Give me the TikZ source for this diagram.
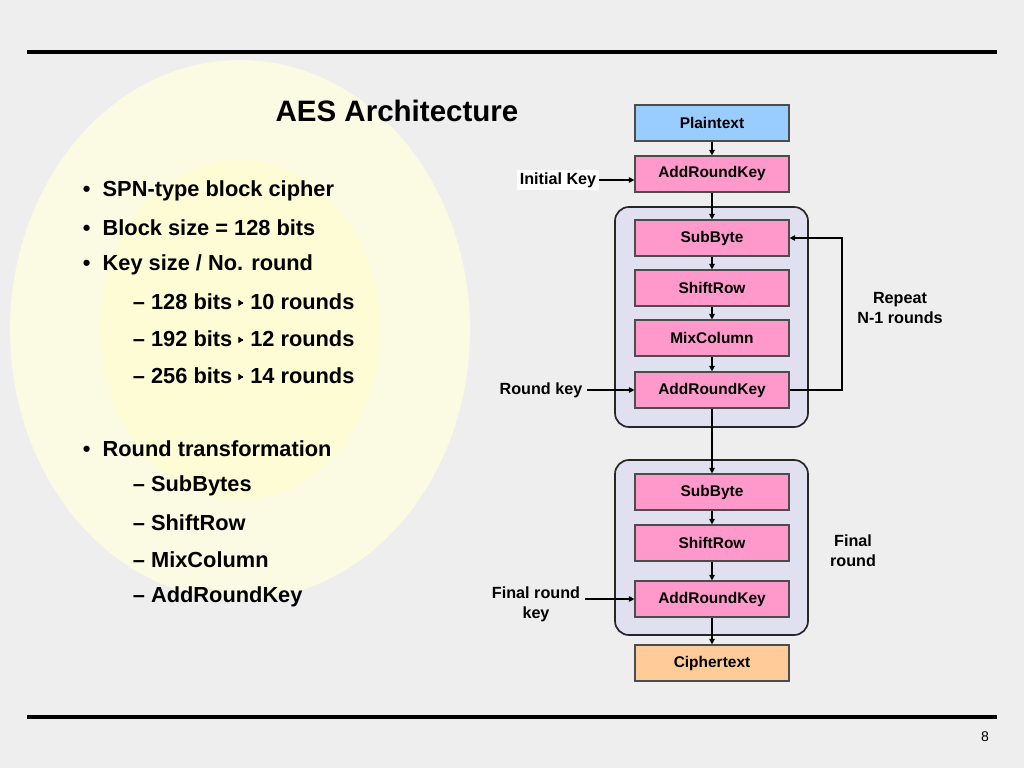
\documentclass[tikz,border=0pt]{standalone}
\usepackage{fontspec}
\setmainfont{Liberation Sans}
\usetikzlibrary{arrows.meta,positioning}
\definecolor{bg}{RGB}{238,238,238}
\definecolor{plainc}{RGB}{153,204,255}
\definecolor{stepc}{RGB}{255,153,204}
\definecolor{cipherc}{RGB}{255,204,153}
\definecolor{groupc}{RGB}{224,224,240}
\newcommand{\karr}{\tikz[baseline=-0.6ex]\draw[line width=1.3pt,-{Triangle[length=3.5pt,width=4.5pt]}] (0,0) -- (0.3,0);}
\tikzset{
  stepbox/.style={draw=black!70, line width=0.8pt, minimum width=3.85cm, minimum height=0.9cm,
    font=\fontsize{11}{13}\selectfont\bfseries, fill=stepc, inner sep=0pt},
  group/.style={draw=black!85, line width=1.2pt, rounded corners=0.35cm, fill=groupc},
  lbl/.style={font=\fontsize{11.5}{14}\selectfont\bfseries, align=center},
  arr/.style={line width=0.8pt, -{Triangle[length=4pt,width=4pt]}},
  bullet/.style={anchor=west, font=\fontsize{15.5}{18}\selectfont\bfseries}
}
\begin{document}
\begin{tikzpicture}[x=0.025cm, y=-0.025cm]
\useasboundingbox (0,0) rectangle (1024,768);
\fill[bg] (0,0) rectangle (1024,768);
\fill[yellow!12, opacity=0.8] (240,330) ellipse (230 and 270);
\fill[yellow!18, opacity=0.8] (240,330) ellipse (140 and 170);
\draw[line width=2.2pt] (27,52) -- (997,52);
\draw[line width=2.2pt] (27,717) -- (997,717);
\node[font=\fontsize{21}{24}\selectfont\bfseries] (title) at (397,111) {AES Architecture};
\node (pn) at (985,737) {\fontsize{10}{12}\selectfont 8};

% bullets
\node[bullet] (b1) at (78,191) {•\ \ SPN-type block cipher};
\node[bullet] (b2) at (78,228) {•\ \ Block size = 128 bits};
\node[bullet] (b3) at (78,265) {•\ \ Key size / No. round};
\node[bullet] (b4) at (128,302) {– 128 bits \karr\ 10 rounds};
\node[bullet] (b5) at (128,339) {– 192 bits \karr\ 12 rounds};
\node[bullet] (b6) at (128,376) {– 256 bits \karr\ 14 rounds};
\node[bullet] (b7) at (78,449) {•\ \ Round transformation};
\node[bullet] (b8) at (128,486) {– SubBytes};
\node[bullet] (b9) at (128,523) {– ShiftRow};
\node[bullet] (b10) at (128,560) {– MixColumn};
\node[bullet] (b11) at (128,597) {– AddRoundKey};

% groups
\draw[group] (615,207) rectangle (808,427);
\draw[group] (615,460) rectangle (808,635);

% flow
\node[stepbox, fill=plainc] (pt) at (712,123) {Plaintext};
\node[stepbox] (ark0) at (712,174) {AddRoundKey};
\node[stepbox] (sb1) at (712,238) {SubByte};
\node[stepbox] (sr1) at (712,288) {ShiftRow};
\node[stepbox] (mc1) at (712,338) {MixColumn};
\node[stepbox] (ark1) at (712,390) {AddRoundKey};
\node[stepbox] (sb2) at (712,492) {SubByte};
\node[stepbox] (sr2) at (712,543) {ShiftRow};
\node[stepbox] (ark2) at (712,599) {AddRoundKey};
\node[stepbox, fill=cipherc] (ct) at (712,663) {Ciphertext};

\draw[arr] (pt) -- (ark0);
\draw[arr] (ark0) -- (sb1);
\draw[arr] (sb1) -- (sr1);
\draw[arr] (sr1) -- (mc1);
\draw[arr] (mc1) -- (ark1);
\draw[arr] (ark1) -- (sb2);
\draw[arr] (sb2) -- (sr2);
\draw[arr] (sr2) -- (ark2);
\draw[arr] (ark2) -- (ct);

\draw[arr] (ark1.east) -- (842,390) -- (842,238) -- (sb1.east);

% side labels
\node[lbl, fill=white, inner sep=2pt] (ik) at (558,180) {Initial Key};
\node[lbl] (rk) at (541,390) {Round key};
\node[lbl] (frk) at (536,604) {Final round\\key};
\node[lbl] (rep) at (900,308) {Repeat\\N-1 rounds};
\node[lbl] (fr) at (853,551) {Final\\round};
\draw[arr] (ik.east) -- (ik.east -| ark0.west);
\draw[arr] (rk.east) -- (ark1.west);
\draw[arr] (frk.east |- ark2.west) -- (ark2.west);
\end{tikzpicture}
\end{document}
